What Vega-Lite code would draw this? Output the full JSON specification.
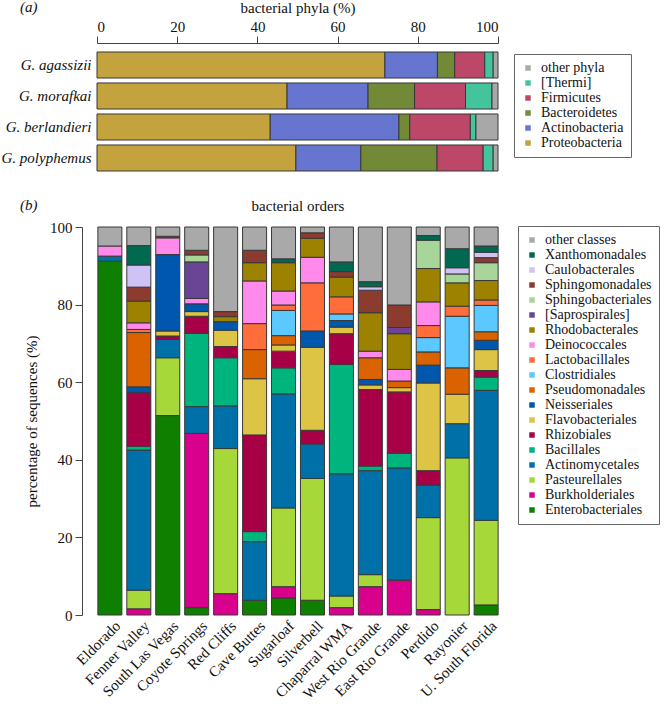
{
  "$schema": "https://vega.github.io/schema/vega-lite/v6.json",
  "padding": {"left": 1, "top": 0, "right": 0, "bottom": 0},
  "background": "white",
  "config": {
    "font": "Liberation Serif",
    "view": {"stroke": null},
    "axis": {"labelFont": "Liberation Serif", "titleFont": "Liberation Serif", "labelFontSize": 15, "titleFontSize": 15, "titleFontWeight": "normal", "labelColor": "#111", "titleColor": "#111", "domainColor": "#444", "tickColor": "#444", "grid": false},
    "legend": {"labelFont": "Liberation Serif", "labelFontSize": 14, "labelColor": "#111", "symbolType": "square", "symbolSize": 30, "symbolStrokeWidth": 0, "strokeColor": "#666", "padding": 7, "rowPadding": 1, "labelOffset": 6},
    "title": {"font": "Liberation Serif", "fontSize": 15, "fontWeight": "normal", "color": "#111"}
  },
  "datasets": {
    "phyla": [
      {"species": "G. agassizii", "phylum": "Proteobacteria", "pct": 71.8},
      {"species": "G. agassizii", "phylum": "Actinobacteria", "pct": 13.1},
      {"species": "G. agassizii", "phylum": "Bacteroidetes", "pct": 4.3},
      {"species": "G. agassizii", "phylum": "Firmicutes", "pct": 7.5},
      {"species": "G. agassizii", "phylum": "[Thermi]", "pct": 2.1},
      {"species": "G. agassizii", "phylum": "other phyla", "pct": 1.2},
      {"species": "G. morafkai", "phylum": "Proteobacteria", "pct": 47.4},
      {"species": "G. morafkai", "phylum": "Actinobacteria", "pct": 20.2},
      {"species": "G. morafkai", "phylum": "Bacteroidetes", "pct": 11.6},
      {"species": "G. morafkai", "phylum": "Firmicutes", "pct": 12.7},
      {"species": "G. morafkai", "phylum": "[Thermi]", "pct": 6.6},
      {"species": "G. morafkai", "phylum": "other phyla", "pct": 1.5},
      {"species": "G. berlandieri", "phylum": "Proteobacteria", "pct": 43.2},
      {"species": "G. berlandieri", "phylum": "Actinobacteria", "pct": 32.1},
      {"species": "G. berlandieri", "phylum": "Bacteroidetes", "pct": 2.7},
      {"species": "G. berlandieri", "phylum": "Firmicutes", "pct": 15.1},
      {"species": "G. berlandieri", "phylum": "[Thermi]", "pct": 1.4},
      {"species": "G. berlandieri", "phylum": "other phyla", "pct": 5.5},
      {"species": "G. polyphemus", "phylum": "Proteobacteria", "pct": 49.6},
      {"species": "G. polyphemus", "phylum": "Actinobacteria", "pct": 16.2},
      {"species": "G. polyphemus", "phylum": "Bacteroidetes", "pct": 19.0},
      {"species": "G. polyphemus", "phylum": "Firmicutes", "pct": 11.5},
      {"species": "G. polyphemus", "phylum": "[Thermi]", "pct": 2.5},
      {"species": "G. polyphemus", "phylum": "other phyla", "pct": 1.2}
    ],
    "orders": [
      {"site": "Eldorado", "order": "Enterobacteriales", "pct": 91.2},
      {"site": "Eldorado", "order": "Actinomycetales", "pct": 1.3},
      {"site": "Eldorado", "order": "Deinococcales", "pct": 2.6},
      {"site": "Eldorado", "order": "other classes", "pct": 4.9},
      {"site": "Fenner Valley", "order": "Burkholderiales", "pct": 1.6},
      {"site": "Fenner Valley", "order": "Pasteurellales", "pct": 4.8},
      {"site": "Fenner Valley", "order": "Actinomycetales", "pct": 36.1},
      {"site": "Fenner Valley", "order": "Bacillales", "pct": 1.0},
      {"site": "Fenner Valley", "order": "Rhizobiales", "pct": 13.8},
      {"site": "Fenner Valley", "order": "Neisseriales", "pct": 1.5},
      {"site": "Fenner Valley", "order": "Pseudomonadales", "pct": 14.0},
      {"site": "Fenner Valley", "order": "Lactobacillales", "pct": 0.8},
      {"site": "Fenner Valley", "order": "Deinococcales", "pct": 1.7},
      {"site": "Fenner Valley", "order": "Rhodobacterales", "pct": 5.6},
      {"site": "Fenner Valley", "order": "Sphingomonadales", "pct": 3.6},
      {"site": "Fenner Valley", "order": "Caulobacterales", "pct": 5.7},
      {"site": "Fenner Valley", "order": "Xanthomonadales", "pct": 5.0},
      {"site": "Fenner Valley", "order": "other classes", "pct": 4.8},
      {"site": "South Las Vegas", "order": "Enterobacteriales", "pct": 51.4},
      {"site": "South Las Vegas", "order": "Pasteurellales", "pct": 14.9},
      {"site": "South Las Vegas", "order": "Actinomycetales", "pct": 4.7},
      {"site": "South Las Vegas", "order": "Rhizobiales", "pct": 0.9},
      {"site": "South Las Vegas", "order": "Flavobacteriales", "pct": 1.3},
      {"site": "South Las Vegas", "order": "Neisseriales", "pct": 19.7},
      {"site": "South Las Vegas", "order": "Deinococcales", "pct": 4.3},
      {"site": "South Las Vegas", "order": "Sphingomonadales", "pct": 0.4},
      {"site": "South Las Vegas", "order": "other classes", "pct": 2.4},
      {"site": "Coyote Springs", "order": "Enterobacteriales", "pct": 1.9},
      {"site": "Coyote Springs", "order": "Burkholderiales", "pct": 44.9},
      {"site": "Coyote Springs", "order": "Actinomycetales", "pct": 6.9},
      {"site": "Coyote Springs", "order": "Bacillales", "pct": 18.9},
      {"site": "Coyote Springs", "order": "Rhizobiales", "pct": 4.4},
      {"site": "Coyote Springs", "order": "Flavobacteriales", "pct": 1.2},
      {"site": "Coyote Springs", "order": "Neisseriales", "pct": 2.0},
      {"site": "Coyote Springs", "order": "Deinococcales", "pct": 1.4},
      {"site": "Coyote Springs", "order": "[Saprospirales]", "pct": 9.4},
      {"site": "Coyote Springs", "order": "Sphingobacteriales", "pct": 1.8},
      {"site": "Coyote Springs", "order": "Sphingomonadales", "pct": 1.2},
      {"site": "Coyote Springs", "order": "other classes", "pct": 6.0},
      {"site": "Red Cliffs", "order": "Burkholderiales", "pct": 5.5},
      {"site": "Red Cliffs", "order": "Pasteurellales", "pct": 37.4},
      {"site": "Red Cliffs", "order": "Actinomycetales", "pct": 11.0},
      {"site": "Red Cliffs", "order": "Bacillales", "pct": 12.4},
      {"site": "Red Cliffs", "order": "Rhizobiales", "pct": 2.9},
      {"site": "Red Cliffs", "order": "Flavobacteriales", "pct": 4.2},
      {"site": "Red Cliffs", "order": "Neisseriales", "pct": 2.2},
      {"site": "Red Cliffs", "order": "Rhodobacterales", "pct": 1.3},
      {"site": "Red Cliffs", "order": "Sphingomonadales", "pct": 1.3},
      {"site": "Red Cliffs", "order": "other classes", "pct": 21.8},
      {"site": "Cave Buttes", "order": "Enterobacteriales", "pct": 3.8},
      {"site": "Cave Buttes", "order": "Actinomycetales", "pct": 15.1},
      {"site": "Cave Buttes", "order": "Bacillales", "pct": 2.6},
      {"site": "Cave Buttes", "order": "Rhizobiales", "pct": 24.9},
      {"site": "Cave Buttes", "order": "Flavobacteriales", "pct": 14.5},
      {"site": "Cave Buttes", "order": "Pseudomonadales", "pct": 7.5},
      {"site": "Cave Buttes", "order": "Lactobacillales", "pct": 6.7},
      {"site": "Cave Buttes", "order": "Deinococcales", "pct": 11.0},
      {"site": "Cave Buttes", "order": "Rhodobacterales", "pct": 4.7},
      {"site": "Cave Buttes", "order": "Sphingomonadales", "pct": 3.2},
      {"site": "Cave Buttes", "order": "other classes", "pct": 6.0},
      {"site": "Sugarloaf", "order": "Enterobacteriales", "pct": 4.4},
      {"site": "Sugarloaf", "order": "Burkholderiales", "pct": 2.9},
      {"site": "Sugarloaf", "order": "Pasteurellales", "pct": 20.3},
      {"site": "Sugarloaf", "order": "Actinomycetales", "pct": 29.4},
      {"site": "Sugarloaf", "order": "Bacillales", "pct": 6.7},
      {"site": "Sugarloaf", "order": "Rhizobiales", "pct": 4.3},
      {"site": "Sugarloaf", "order": "Flavobacteriales", "pct": 1.6},
      {"site": "Sugarloaf", "order": "Pseudomonadales", "pct": 2.4},
      {"site": "Sugarloaf", "order": "Clostridiales", "pct": 6.5},
      {"site": "Sugarloaf", "order": "Lactobacillales", "pct": 1.4},
      {"site": "Sugarloaf", "order": "Deinococcales", "pct": 3.6},
      {"site": "Sugarloaf", "order": "Rhodobacterales", "pct": 7.3},
      {"site": "Sugarloaf", "order": "Xanthomonadales", "pct": 1.0},
      {"site": "Sugarloaf", "order": "other classes", "pct": 8.2},
      {"site": "Silverbell", "order": "Enterobacteriales", "pct": 3.8},
      {"site": "Silverbell", "order": "Pasteurellales", "pct": 31.4},
      {"site": "Silverbell", "order": "Actinomycetales", "pct": 8.9},
      {"site": "Silverbell", "order": "Rhizobiales", "pct": 3.5},
      {"site": "Silverbell", "order": "Flavobacteriales", "pct": 21.4},
      {"site": "Silverbell", "order": "Neisseriales", "pct": 4.2},
      {"site": "Silverbell", "order": "Lactobacillales", "pct": 12.4},
      {"site": "Silverbell", "order": "Deinococcales", "pct": 6.6},
      {"site": "Silverbell", "order": "Rhodobacterales", "pct": 4.9},
      {"site": "Silverbell", "order": "Sphingomonadales", "pct": 1.4},
      {"site": "Silverbell", "order": "other classes", "pct": 1.5},
      {"site": "Chaparral WMA", "order": "Burkholderiales", "pct": 1.9},
      {"site": "Chaparral WMA", "order": "Pasteurellales", "pct": 3.0},
      {"site": "Chaparral WMA", "order": "Actinomycetales", "pct": 31.5},
      {"site": "Chaparral WMA", "order": "Bacillales", "pct": 28.2},
      {"site": "Chaparral WMA", "order": "Rhizobiales", "pct": 7.9},
      {"site": "Chaparral WMA", "order": "Flavobacteriales", "pct": 1.7},
      {"site": "Chaparral WMA", "order": "Neisseriales", "pct": 1.7},
      {"site": "Chaparral WMA", "order": "Clostridiales", "pct": 1.7},
      {"site": "Chaparral WMA", "order": "Lactobacillales", "pct": 4.4},
      {"site": "Chaparral WMA", "order": "Rhodobacterales", "pct": 5.1},
      {"site": "Chaparral WMA", "order": "Sphingomonadales", "pct": 1.4},
      {"site": "Chaparral WMA", "order": "Xanthomonadales", "pct": 2.5},
      {"site": "Chaparral WMA", "order": "other classes", "pct": 9.0},
      {"site": "West Rio Grande", "order": "Burkholderiales", "pct": 7.3},
      {"site": "West Rio Grande", "order": "Pasteurellales", "pct": 3.1},
      {"site": "West Rio Grande", "order": "Actinomycetales", "pct": 26.8},
      {"site": "West Rio Grande", "order": "Bacillales", "pct": 1.2},
      {"site": "West Rio Grande", "order": "Rhizobiales", "pct": 19.7},
      {"site": "West Rio Grande", "order": "Flavobacteriales", "pct": 1.2},
      {"site": "West Rio Grande", "order": "Neisseriales", "pct": 1.4},
      {"site": "West Rio Grande", "order": "Pseudomonadales", "pct": 5.6},
      {"site": "West Rio Grande", "order": "Deinococcales", "pct": 1.7},
      {"site": "West Rio Grande", "order": "Rhodobacterales", "pct": 9.9},
      {"site": "West Rio Grande", "order": "Sphingomonadales", "pct": 5.8},
      {"site": "West Rio Grande", "order": "Caulobacterales", "pct": 0.9},
      {"site": "West Rio Grande", "order": "Xanthomonadales", "pct": 1.3},
      {"site": "West Rio Grande", "order": "other classes", "pct": 14.1},
      {"site": "East Rio Grande", "order": "Burkholderiales", "pct": 9.0},
      {"site": "East Rio Grande", "order": "Actinomycetales", "pct": 28.9},
      {"site": "East Rio Grande", "order": "Bacillales", "pct": 3.8},
      {"site": "East Rio Grande", "order": "Rhizobiales", "pct": 15.8},
      {"site": "East Rio Grande", "order": "Flavobacteriales", "pct": 1.1},
      {"site": "East Rio Grande", "order": "Pseudomonadales", "pct": 1.7},
      {"site": "East Rio Grande", "order": "Deinococcales", "pct": 3.0},
      {"site": "East Rio Grande", "order": "Rhodobacterales", "pct": 9.2},
      {"site": "East Rio Grande", "order": "[Saprospirales]", "pct": 1.6},
      {"site": "East Rio Grande", "order": "Sphingomonadales", "pct": 5.8},
      {"site": "East Rio Grande", "order": "other classes", "pct": 20.1},
      {"site": "Perdido", "order": "Burkholderiales", "pct": 1.4},
      {"site": "Perdido", "order": "Pasteurellales", "pct": 23.7},
      {"site": "Perdido", "order": "Actinomycetales", "pct": 8.4},
      {"site": "Perdido", "order": "Rhizobiales", "pct": 3.7},
      {"site": "Perdido", "order": "Flavobacteriales", "pct": 22.6},
      {"site": "Perdido", "order": "Neisseriales", "pct": 4.6},
      {"site": "Perdido", "order": "Pseudomonadales", "pct": 3.4},
      {"site": "Perdido", "order": "Clostridiales", "pct": 3.7},
      {"site": "Perdido", "order": "Lactobacillales", "pct": 3.1},
      {"site": "Perdido", "order": "Deinococcales", "pct": 6.1},
      {"site": "Perdido", "order": "Rhodobacterales", "pct": 8.6},
      {"site": "Perdido", "order": "Sphingobacteriales", "pct": 7.3},
      {"site": "Perdido", "order": "Xanthomonadales", "pct": 1.2},
      {"site": "Perdido", "order": "other classes", "pct": 2.2},
      {"site": "Rayonier", "order": "Pasteurellales", "pct": 40.5},
      {"site": "Rayonier", "order": "Actinomycetales", "pct": 8.8},
      {"site": "Rayonier", "order": "Flavobacteriales", "pct": 7.6},
      {"site": "Rayonier", "order": "Pseudomonadales", "pct": 6.8},
      {"site": "Rayonier", "order": "Clostridiales", "pct": 13.3},
      {"site": "Rayonier", "order": "Lactobacillales", "pct": 2.6},
      {"site": "Rayonier", "order": "Rhodobacterales", "pct": 6.0},
      {"site": "Rayonier", "order": "Sphingobacteriales", "pct": 2.3},
      {"site": "Rayonier", "order": "Caulobacterales", "pct": 1.6},
      {"site": "Rayonier", "order": "Xanthomonadales", "pct": 4.9},
      {"site": "Rayonier", "order": "other classes", "pct": 5.6},
      {"site": "U. South Florida", "order": "Enterobacteriales", "pct": 2.6},
      {"site": "U. South Florida", "order": "Pasteurellales", "pct": 21.8},
      {"site": "U. South Florida", "order": "Actinomycetales", "pct": 33.5},
      {"site": "U. South Florida", "order": "Bacillales", "pct": 3.4},
      {"site": "U. South Florida", "order": "Rhizobiales", "pct": 1.7},
      {"site": "U. South Florida", "order": "Flavobacteriales", "pct": 5.4},
      {"site": "U. South Florida", "order": "Neisseriales", "pct": 2.4},
      {"site": "U. South Florida", "order": "Pseudomonadales", "pct": 2.2},
      {"site": "U. South Florida", "order": "Clostridiales", "pct": 6.8},
      {"site": "U. South Florida", "order": "Lactobacillales", "pct": 1.4},
      {"site": "U. South Florida", "order": "Rhodobacterales", "pct": 5.0},
      {"site": "U. South Florida", "order": "Sphingobacteriales", "pct": 4.6},
      {"site": "U. South Florida", "order": "Sphingomonadales", "pct": 1.3},
      {"site": "U. South Florida", "order": "Caulobacterales", "pct": 1.4},
      {"site": "U. South Florida", "order": "Xanthomonadales", "pct": 1.6},
      {"site": "U. South Florida", "order": "other classes", "pct": 4.9}
    ]
  },
  "spacing": 18,
  "resolve": {"scale": {"color": "independent"}},
  "vconcat": [
    {
      "title": {"text": "(a)", "anchor": "start", "frame": "group", "fontStyle": "italic", "dx": -77, "offset": -15},
      "width": 401,
      "height": 137,
      "data": {"name": "phyla"},
      "transform": [
        {"calculate": "indexof(['Proteobacteria','Actinobacteria','Bacteroidetes','Firmicutes','[Thermi]','other phyla'], datum.phylum)", "as": "stack_rank"}
      ],
      "mark": {"type": "bar", "stroke": "#383838", "strokeWidth": 1},
      "encoding": {
        "y": {"field": "species", "type": "nominal", "sort": null, "scale": {"paddingInner": 0.16, "paddingOuter": 0.29}, "axis": {"title": null, "domain": false, "ticks": false, "labelFontStyle": "italic", "labelPadding": 6}},
        "x": {"field": "pct", "type": "quantitative", "stack": "zero", "scale": {"domain": [0, 100], "nice": false}, "axis": {"orient": "top", "title": "bacterial phyla (%)", "values": [0, 20, 40, 60, 80, 100], "tickSize": 7, "labelPadding": 2, "titlePadding": 4}},
        "order": {"field": "stack_rank", "type": "quantitative"},
        "color": {
          "field": "phylum", "type": "nominal",
          "scale": {"domain": ["other phyla", "[Thermi]", "Firmicutes", "Bacteroidetes", "Actinobacteria", "Proteobacteria"], "range": ["#A8A8A8", "#44C49C", "#BC4769", "#728A37", "#6575D0", "#C4A23D"]},
          "legend": {"title": null, "orient": "none", "legendX": 417, "legendY": 11, "rowPadding": 1}
        }
      }
    },
    {
      "title": {"text": "(b)", "anchor": "start", "frame": "group", "fontStyle": "italic", "dx": -77, "offset": -14},
      "vconcat": [
        {
          "title": {"text": "bacterial orders", "anchor": "middle", "frame": "group", "offset": 6},
          "width": 402,
          "height": 388,
          "data": {"name": "orders"},
          "transform": [
            {"calculate": "indexof(['Enterobacteriales','Burkholderiales','Pasteurellales','Actinomycetales','Bacillales','Rhizobiales','Flavobacteriales','Neisseriales','Pseudomonadales','Clostridiales','Lactobacillales','Deinococcales','Rhodobacterales','[Saprospirales]','Sphingobacteriales','Sphingomonadales','Caulobacterales','Xanthomonadales','other classes'], datum.order)", "as": "stack_rank"}
          ],
          "mark": {"type": "bar", "stroke": "#383838", "strokeWidth": 1},
          "encoding": {
            "x": {"field": "site", "type": "nominal", "sort": null, "scale": {"paddingInner": 0.17, "paddingOuter": 0.03}, "axis": {"title": null, "domain": false, "ticks": false, "labelAngle": -45, "labelAlign": "right", "labelBaseline": "middle", "labelPadding": 8, "labelOffset": 8, "labelLimit": 0}},
            "y": {"field": "pct", "type": "quantitative", "stack": "zero", "scale": {"domain": [0, 100], "nice": false}, "axis": {"title": "percentage of sequences (%)", "values": [0, 20, 40, 60, 80, 100], "offset": 15, "tickSize": 7, "labelPadding": 3, "titlePadding": 10}},
            "order": {"field": "stack_rank", "type": "quantitative"},
            "color": {
              "field": "order", "type": "nominal",
              "scale": {
                "domain": ["other classes", "Xanthomonadales", "Caulobacterales", "Sphingomonadales", "Sphingobacteriales", "[Saprospirales]", "Rhodobacterales", "Deinococcales", "Lactobacillales", "Clostridiales", "Pseudomonadales", "Neisseriales", "Flavobacteriales", "Rhizobiales", "Bacillales", "Actinomycetales", "Pasteurellales", "Burkholderiales", "Enterobacteriales"],
                "range": ["#A9A9A9", "#00694F", "#CFC3F6", "#8C3B2F", "#A8D69A", "#6A4596", "#9D8200", "#FF8AEB", "#FF6D3B", "#5BC8FF", "#DA6300", "#0057AE", "#DDC445", "#A80047", "#00B47E", "#0070A8", "#A7D83A", "#D9008D", "#0F7F00"]
              },
              "legend": {"title": null, "orient": "none", "legendX": 421, "legendY": -1, "rowPadding": 1}
            }
          }
        }
      ]
    }
  ]
}
